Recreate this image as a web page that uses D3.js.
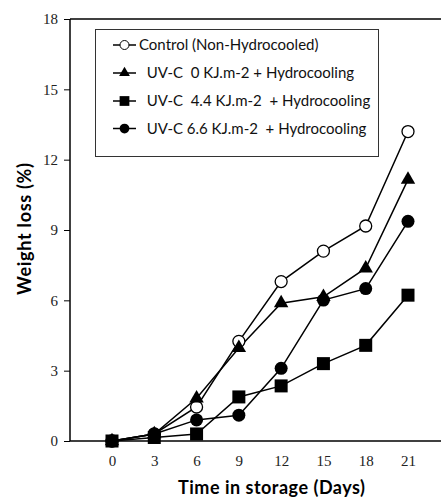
<!DOCTYPE html>
<html>
<head>
<meta charset="utf-8">
<script src="https://cdn.jsdelivr.net/npm/d3@7"></script>
<style>
  html, body { margin: 0; padding: 0; background: #fff; }
  svg { display: block; }
</style>
</head>
<body>
<svg id="chart" width="441" height="497"></svg>
<script>
const days = [0, 3, 6, 9, 12, 15, 18, 21];
const control = [0, 0.3, 1.45, 4.25, 6.8, 8.1, 9.17, 13.2];
const uv0 = [0, 0.3, 1.82, 3.97, 5.88, 6.15, 7.37, 11.15];
const uv44 = [0, 0.15, 0.3, 1.88, 2.35, 3.3, 4.08, 6.22];
const uv66 = [0, 0.3, 0.9, 1.1, 3.1, 6.01, 6.5, 9.37];
const yTicks = [0, 3, 6, 9, 12, 15, 18];

const series = [
  { name: "Control (Non-Hydrocooled)", values: control, shape: "openCircle" },
  { name: "  UV-C  0 KJ.m-2 + Hydrocooling", values: uv0, shape: "triangle" },
  { name: "  UV-C  4.4 KJ.m-2  + Hydrocooling", values: uv44, shape: "square" },
  { name: "  UV-C 6.6 KJ.m-2  + Hydrocooling", values: uv66, shape: "circle" },
];

const svg = d3.select("#chart");
const plotLeft = 70, plotRight = 441, plotTop = 19, plotBottom = 441;

const x = d3.scaleLinear().domain([0, 21]).range([112, 408]);
const y = d3.scaleLinear().domain([0, 18]).range([plotBottom, plotTop]);

// frame: left axis, bottom axis, top line (no right side)
svg.append("line").attr("x1", plotLeft).attr("x2", plotLeft).attr("y1", plotTop).attr("y2", plotBottom)
  .attr("stroke", "#000").attr("stroke-width", 1.5);
svg.append("line").attr("x1", plotLeft).attr("x2", plotRight).attr("y1", plotBottom).attr("y2", plotBottom)
  .attr("stroke", "#000").attr("stroke-width", 1.5);
svg.append("line").attr("x1", plotLeft).attr("x2", plotRight).attr("y1", plotTop).attr("y2", plotTop)
  .attr("stroke", "#000").attr("stroke-width", 1.5);

const yAxis = svg.append("g")
  .attr("transform", `translate(${plotLeft},0)`)
  .call(d3.axisLeft(y).tickValues(yTicks).tickSize(6).tickPadding(6));
yAxis.select(".domain").remove();
yAxis.selectAll("line").attr("stroke", "#000");
yAxis.selectAll("text").attr("font-family", "Liberation Serif").attr("font-size", 15).attr("fill", "#222");

const xAxis = svg.append("g")
  .attr("transform", `translate(0,${plotBottom})`)
  .call(d3.axisBottom(x).tickValues(days).tickSize(0).tickPadding(14));
xAxis.select(".domain").remove();
xAxis.selectAll("text").attr("font-family", "Liberation Serif").attr("font-size", 15).attr("fill", "#222");

svg.append("text")
  .attr("x", 271.5).attr("y", 494)
  .attr("text-anchor", "middle")
  .attr("font-family", "Lato").attr("font-weight", "bold").attr("font-size", 18)
  .attr("textLength", 187).attr("lengthAdjust", "spacing")
  .text("Time in storage (Days)");

svg.append("text")
  .attr("transform", "translate(31,229) rotate(-90)")
  .attr("text-anchor", "middle")
  .attr("font-family", "Lato").attr("font-weight", "bold").attr("font-size", 18)
  .attr("textLength", 132).attr("lengthAdjust", "spacing")
  .text("Weight loss (%)");

function drawMarker(g, shape) {
  if (shape === "openCircle") {
    g.append("circle").attr("r", 6).attr("fill", "#fff").attr("stroke", "#000").attr("stroke-width", 1.3);
  } else if (shape === "circle") {
    g.append("circle").attr("r", 6.5).attr("fill", "#000");
  } else if (shape === "square") {
    g.append("rect").attr("x", -6.5).attr("y", -6.5).attr("width", 13).attr("height", 13).attr("fill", "#000");
  } else {
    g.append("path").attr("d", d3.symbol(d3.symbolTriangle, 90)()).attr("fill", "#000");
  }
}

const line = d3.line().x((d, i) => x(days[i])).y((d) => y(d));

series.forEach((s) => {
  svg.append("path").attr("d", line(s.values))
    .attr("fill", "none").attr("stroke", "#000").attr("stroke-width", 1.5);
});
series.forEach((s) => {
  s.values.forEach((v, i) => {
    const g = svg.append("g").attr("transform", `translate(${x(days[i])},${y(v)})`);
    drawMarker(g, s.shape);
  });
});

// legend
svg.append("rect").attr("x", 95.5).attr("y", 29.5).attr("width", 283).attr("height", 127)
  .attr("fill", "#fff").attr("stroke", "#333").attr("stroke-width", 1);

const legendY = [45, 73, 101, 128.5];
series.forEach((s, i) => {
  const ly = legendY[i];
  svg.append("line").attr("x1", 113).attr("x2", 136).attr("y1", ly).attr("y2", ly)
    .attr("stroke", "#000").attr("stroke-width", 1.5);
  const g = svg.append("g").attr("transform", `translate(124.5,${ly}) scale(0.75)`);
  drawMarker(g, s.shape);
  svg.append("text").attr("x", 139).attr("y", ly + 5)
    .attr("font-family", "Lato").attr("font-size", 15).attr("fill", "#111")
    .attr("xml:space", "preserve").style("white-space", "pre")
    .text(s.name);
});
</script>
</body>
</html>
